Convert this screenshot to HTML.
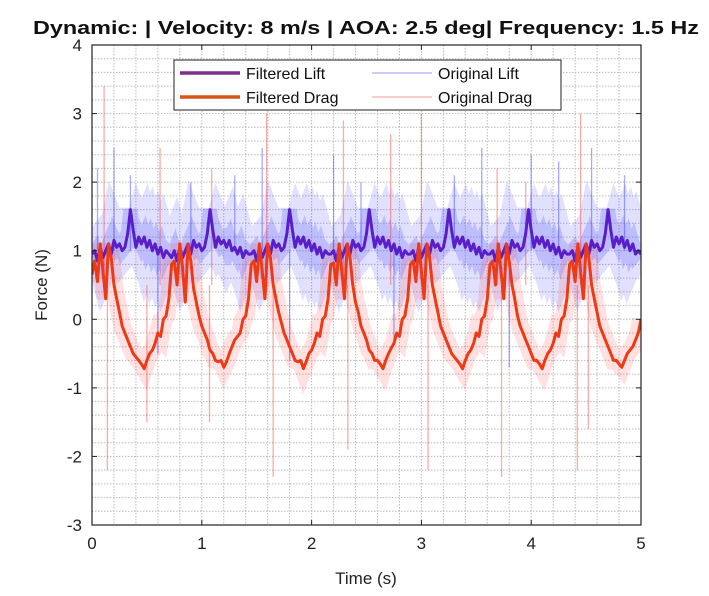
<!DOCTYPE html>
<html><head><meta charset="utf-8">
<style>
body{margin:0;background:#fff;}
svg text{font-family:"Liberation Sans",sans-serif;}
</style></head>
<body>
<svg id="chart" width="709" height="591" viewBox="0 0 709 591" xmlns="http://www.w3.org/2000/svg">
<defs><clipPath id="plotclip"><rect x="92" y="45" width="549" height="480"/></clipPath></defs>
<rect width="709" height="591" fill="#fff"/>
<text x="366" y="34" text-anchor="middle" font-size="18" font-weight="bold" fill="#111" textLength="666" lengthAdjust="spacingAndGlyphs">Dynamic: | Velocity: 8 m/s | AOA: 2.5 deg| Frequency: 1.5 Hz</text>
<g id="grid"></g>
<g id="orig" clip-path="url(#plotclip)"></g>
<g id="filt" clip-path="url(#plotclip)"></g>
<g id="axes"></g>
<g id="legend">
<rect x="174" y="60" width="387" height="50" fill="#fff" stroke="#222" stroke-width="1"/>
<line x1="180" y1="73" x2="240" y2="73" stroke="#7e2f8e" stroke-width="3.5"/>
<text x="246" y="79" font-size="16" fill="#111">Filtered Lift</text>
<line x1="180" y1="97" x2="240" y2="97" stroke="#d95319" stroke-width="3.5"/>
<text x="246" y="103" font-size="16" fill="#111">Filtered Drag</text>
<line x1="372" y1="73" x2="432" y2="73" stroke="rgba(0,0,255,0.2)" stroke-width="2"/>
<text x="438" y="79" font-size="16" fill="#111">Original Lift</text>
<line x1="372" y1="97" x2="432" y2="97" stroke="rgba(255,0,0,0.2)" stroke-width="2"/>
<text x="438" y="103" font-size="16" fill="#111">Original Drag</text>
</g>
<text x="366" y="584" text-anchor="middle" font-size="17" fill="#222">Time (s)</text>
<text x="0" y="0" transform="translate(47,285) rotate(-90)" text-anchor="middle" font-size="17" fill="#222">Force (N)</text>
</svg>
<script>
const dt = 0.025;
const xTicks = [0,1,2,3,4,5];
const yTicks = [-3,-2,-1,0,1,2,3,4];
const dragFiltered = [
0.65,0.85,0.55,1.1,0.7,0.3,1.1,0.9,0.5,0.3,0.1,-0.1,-0.2,-0.3,-0.4,-0.5,-0.55,-0.6,-0.65,-0.72,-0.6,-0.5,-0.45,-0.35,-0.2,-0.25,0.0,0.05,0.3,
0.8,0.85,0.5,1.1,0.75,0.25,1.1,0.85,0.45,0.25,0.05,-0.1,-0.2,-0.3,-0.45,-0.5,-0.6,-0.62,-0.6,-0.7,-0.62,-0.5,-0.4,-0.3,-0.25,-0.2,0.0,0.05,0.3,
0.8,0.85,0.55,1.1,0.7,0.3,1.1,0.9,0.5,0.3,0.1,-0.05,-0.2,-0.3,-0.4,-0.5,-0.6,-0.62,-0.6,-0.72,-0.62,-0.5,-0.45,-0.35,-0.2,-0.25,0.0,0.05,0.3,
0.8,0.82,0.5,1.1,0.7,0.3,1.1,0.9,0.5,0.25,0.1,-0.1,-0.2,-0.3,-0.45,-0.5,-0.6,-0.6,-0.65,-0.72,-0.6,-0.5,-0.42,-0.35,-0.2,-0.25,0.0,0.05,0.3,
0.8,0.85,0.55,1.1,0.7,0.3,1.1,0.9,0.5,0.3,0.1,-0.1,-0.2,-0.3,-0.4,-0.5,-0.55,-0.6,-0.65,-0.72,-0.6,-0.5,-0.45,-0.35,-0.2,-0.25,0.0,0.05,0.3,
0.8,0.85,0.5,1.1,0.7,0.3,1.1,0.85,0.5,0.3,0.05,-0.1,-0.2,-0.3,-0.4,-0.5,-0.6,-0.6,-0.65,-0.72,-0.6,-0.5,-0.45,-0.35,-0.2,-0.25,0.0,0.05,0.3,
0.8,0.85,0.55,1.1,0.7,0.3,1.1,0.9,0.5,0.3,0.1,-0.1,-0.2,-0.3,-0.4,-0.5,-0.6,-0.6,-0.65,-0.7,-0.6,-0.5,-0.45,-0.4,-0.3,-0.2,0.0
];
const liftFiltered = [
0.95,1.0,0.85,1.05,0.9,1.0,1.1,0.95,1.15,1.05,1.1,1.0,1.05,1.25,1.6,1.3,1.05,1.2,1.1,1.2,1.05,1.15,1.0,1.1,0.95,1.05,0.9,1.0,0.95,
0.9,1.0,0.85,1.05,0.9,1.0,1.1,0.95,1.15,1.05,1.1,1.0,1.05,1.25,1.6,1.3,1.05,1.2,1.1,1.15,1.05,1.15,1.0,1.05,0.95,1.05,0.9,1.0,0.95,
0.95,1.0,0.85,1.05,0.9,1.0,1.1,0.95,1.15,1.05,1.1,1.0,1.05,1.25,1.6,1.3,1.05,1.2,1.1,1.2,1.05,1.15,1.0,1.1,0.95,1.05,0.9,1.0,0.95,
0.95,1.0,0.85,1.05,0.9,1.0,1.1,0.95,1.15,1.05,1.1,1.0,1.05,1.25,1.6,1.3,1.05,1.2,1.1,1.2,1.05,1.15,1.0,1.1,0.95,1.05,0.9,1.0,0.95,
0.95,1.0,0.85,1.05,0.9,1.0,1.1,0.95,1.15,1.05,1.1,1.0,1.05,1.25,1.6,1.3,1.05,1.2,1.1,1.2,1.05,1.15,1.0,1.1,0.95,1.05,0.9,1.0,0.95,
0.95,1.0,0.85,1.05,0.9,1.0,1.1,0.95,1.15,1.05,1.1,1.0,1.05,1.25,1.6,1.3,1.05,1.2,1.1,1.2,1.05,1.15,1.0,1.1,0.95,1.05,0.9,1.0,0.95,
0.95,1.0,0.85,1.05,0.9,1.0,1.1,0.95,1.15,1.05,1.1,1.0,1.05,1.25,1.6,1.3,1.05,1.2,1.1,1.2,1.05,1.15,1.0,1.1,0.95,1.0,0.95
];
const dragSpikeT = [0.11,0.14,0.5,0.62,1.07,1.09,1.59,1.65,2.29,2.33,2.72,3.0,3.06,3.69,3.73,3.95,4.42,4.45,4.52];
const dragSpikeV = [3.4,-2.2,-1.5,2.5,-1.5,2.2,3.0,-2.3,2.9,-1.9,2.7,3.0,-2.2,2.2,-2.3,2.0,-2.2,3.0,-1.6];
const liftSpikeT = [0.05,0.2,0.35,0.6,0.9,1.3,1.55,1.8,2.2,2.45,2.75,3.3,3.55,3.8,4.0,4.25,4.55,4.85];
const liftSpikeV = [2.2,2.5,2.1,-0.5,2.0,2.1,2.5,-0.6,2.4,2.0,-0.3,2.1,2.5,-0.7,2.4,2.3,2.5,2.1];

const X0=92,X1=641,Y0=525,Y1=45;
const xs=t=>X0+t/5*(X1-X0);
const ys=v=>Y0-(v+3)/7*(Y0-Y1);
const NS='http://www.w3.org/2000/svg';
function mk(tag,parent,attrs){const e=document.createElementNS(NS,tag);for(const k in attrs)e.setAttribute(k,attrs[k]);parent.appendChild(e);return e;}
const grid=document.getElementById('grid'),orig=document.getElementById('orig'),filt=document.getElementById('filt'),axes=document.getElementById('axes');
for(let i=1;i<25;i++){const l=mk('line',grid,{x1:xs(i*0.2),x2:xs(i*0.2),y1:Y1,y2:Y0,stroke:'#bbb','stroke-width':1,'stroke-dasharray':'1.5,1.5'});

}
for(let i=1;i<35;i++){const l=mk('line',grid,{x1:X0,x2:X1,y1:ys(-3+i*0.2),y2:ys(-3+i*0.2),stroke:'#bbb','stroke-width':1,'stroke-dasharray':'1.5,1.5'});

}
function pts(arr){return arr.map((v,i)=>xs(i*dt).toFixed(1)+','+ys(v).toFixed(1)).join(' ');}
const lb=mk('polyline',orig,{points:pts(liftFiltered),fill:'none',stroke:'rgba(70,70,255,0.16)','stroke-width':34,'stroke-linejoin':'miter'});


const lb2=mk('polyline',orig,{points:pts(liftFiltered),fill:'none',stroke:'rgba(70,70,255,0.22)','stroke-width':14,'stroke-linejoin':'miter'});


const db=mk('polyline',orig,{points:pts(dragFiltered),fill:'none',stroke:'rgba(255,70,70,0.16)','stroke-width':18,'stroke-linejoin':'miter'});


liftSpikeT.forEach((t,i)=>{const s=mk('line',orig,{x1:xs(t),x2:xs(t),y1:ys(1),y2:ys(liftSpikeV[i]),stroke:'rgba(40,40,255,0.4)','stroke-width':1.3});

});
dragSpikeT.forEach((t,i)=>{const s=mk('line',orig,{x1:xs(t),x2:xs(t),y1:ys(0.5),y2:ys(dragSpikeV[i]),stroke:'rgba(255,40,40,0.4)','stroke-width':1.3});

});
const fl=mk('polyline',filt,{points:pts(liftFiltered),fill:'none',stroke:'#5a1ec8','stroke-width':3,'stroke-linejoin':'round'});


const fd=mk('polyline',filt,{points:pts(dragFiltered),fill:'none',stroke:'#ee3a14','stroke-width':3,'stroke-linejoin':'round'});


const box=mk('rect',axes,{x:X0,y:Y1,width:X1-X0,height:Y0-Y1,fill:'none',stroke:'#222','stroke-width':1.2});


xTicks.forEach(t=>{mk('line',axes,{x1:xs(t),x2:xs(t),y1:Y0,y2:Y0-5,stroke:'#222'});mk('line',axes,{x1:xs(t),x2:xs(t),y1:Y1,y2:Y1+5,stroke:'#222'});
const tx=mk('text',axes,{x:xs(t),y:Y0+24,'text-anchor':'middle','font-size':17,fill:'#222'});tx.textContent=t;

});
yTicks.forEach(v=>{mk('line',axes,{x1:X0,x2:X0+5,y1:ys(v),y2:ys(v),stroke:'#222'});mk('line',axes,{x1:X1,x2:X1-5,y1:ys(v),y2:ys(v),stroke:'#222'});
const tx=mk('text',axes,{x:X0-10,y:ys(v)+6,'text-anchor':'end','font-size':17,fill:'#222'});tx.textContent=v;

});
</script>
</body></html>
